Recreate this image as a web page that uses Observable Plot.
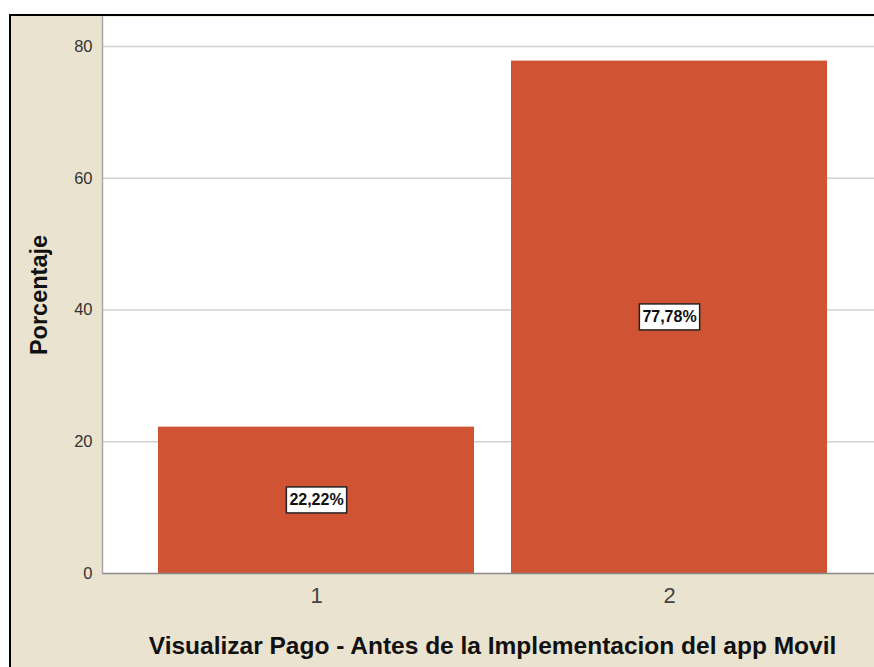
<!DOCTYPE html>
<html>
<head>
<meta charset="utf-8">
<script src="https://cdn.jsdelivr.net/npm/d3@7"></script>
<script src="https://cdn.jsdelivr.net/npm/@observablehq/plot@0.6"></script>
<style>
  html, body { margin: 0; padding: 0; background: #ffffff; }
  #frame {
    position: absolute; left: 9px; top: 14px;
    width: 863px; height: 651px;
    border-left: 2px solid #000; border-top: 2px solid #000;
    background: #e9e3cf; overflow: hidden;
  }
  #frame svg { display: block; }
</style>
</head>
<body>
<div id="frame"></div>
<script>
const categories = ["1", "2"];
const percentages = [22.22, 77.78];
const yTicks = [0, 20, 40, 60, 80];
const yTitle = "Porcentaje";
const xTitle = "Visualizar Pago - Antes de la Implementacion del app Movil";

const data = categories.map((c, i) => ({
  cat: c,
  value: percentages[i],
  label: percentages[i].toFixed(2).replace(".", ",") + "%"
}));

const font = "'Liberation Sans', Arial, sans-serif";

const chart = Plot.plot({
  width: 863,
  height: 651,
  marginLeft: 91,
  marginRight: 0,
  marginTop: 0,
  marginBottom: 94,
  style: { background: "#e9e3cf", fontFamily: font, overflow: "visible" },
  x: { domain: categories, range: [91, 872], paddingInner: 0.105, paddingOuter: 0.1586 },
  y: { domain: [0, 84.55] },
  marks: [
    Plot.frame({ fill: "#ffffff" }),
    Plot.ruleY(yTicks.filter(t => t > 0), { stroke: "#d2d2d2", strokeWidth: 1.5 }),
    Plot.barY(data, { x: "cat", y: "value", fill: "#d05433" }),
    Plot.ruleY([0], { stroke: "#8a8a8a", strokeWidth: 1.5 }),
    Plot.frame({ anchor: "left", stroke: "#a8a8a8", strokeWidth: 1.5 }),
    Plot.axisY({ ticks: yTicks, tickSize: 0, tickPadding: 10, fontSize: 16.5, label: null, color: "#333" }),
    Plot.axisX({ tickSize: 0, tickPadding: 14, fontSize: 22, label: null, color: "#444" }),
    Plot.text([yTitle], { frameAnchor: "left", textAnchor: "middle", lineAnchor: "middle", dx: -63, dy: 0, rotate: -90, fontSize: 23.5, fontWeight: "bold", fill: "#111" }),
    Plot.text([xTitle], { frameAnchor: "bottom", textAnchor: "middle", lineAnchor: "middle", dx: 4, dy: 73, fontSize: 24.5, fontWeight: "bold", fill: "#111" }),
    Plot.text(data, { x: "cat", y: d => d.value / 2, text: "label", fontSize: 16, fontWeight: "bold", fill: "#111", className: "vlabel" })
  ]
});

document.getElementById("frame").appendChild(chart);

// white boxes behind value labels
d3.select(chart).selectAll("g.vlabel text").each(function () {
  const bb = this.getBBox();
  const padX = 3, h = 26;
  const cy = bb.y + bb.height / 2;
  d3.select(this.parentNode).insert("rect", () => this)
    .attr("transform", this.getAttribute("transform"))
    .attr("x", bb.x - padX)
    .attr("y", cy - h / 2)
    .attr("width", bb.width + 2 * padX)
    .attr("height", h)
    .attr("fill", "#ffffff")
    .attr("stroke", "#222")
    .attr("stroke-width", 1.5);
});
</script>
</body>
</html>
